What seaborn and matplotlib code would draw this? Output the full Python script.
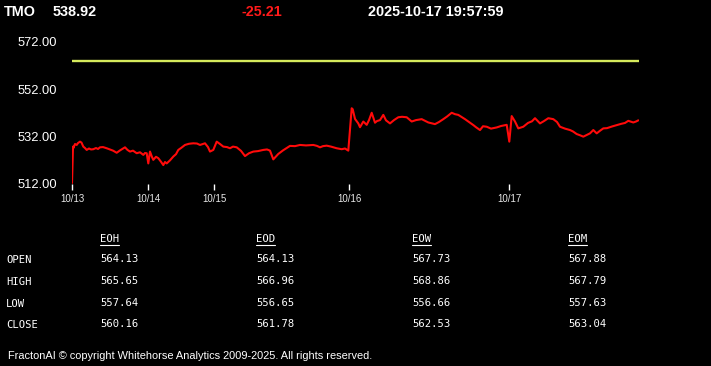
import matplotlib
matplotlib.use("Agg")
import matplotlib.pyplot as plt
from matplotlib.lines import Line2D
import seaborn as sns
import pandas as pd

# ---------------- data ----------------
symbol = "TMO"
last_price = "538.92"
change = "-25.21"
timestamp = "2025-10-17 19:57:59"

# bar index (time slots) and price
bar_idx = [0, 1, 1.3, 3, 4.7, 6, 8, 9.5, 11.3, 13, 14.7, 17, 19, 21.3, 24, 26, 28, 31, 34.7,
           38, 41, 44.7, 48, 51, 53, 55.5, 58, 61, 64.7, 68, 71.3, 73, 74.7, 76.3, 78, 80,
           81.3, 84, 86.3, 89, 91.3, 93, 94.7, 98, 101.3, 104, 106.3, 109, 113, 117, 121.3,
           125, 128, 131, 133, 136, 138, 141.3, 144.7, 148, 151.3, 155, 158, 161, 164.7,
           169, 173, 177, 181.3, 186, 191.3, 195, 198, 201.3, 206.3, 211, 214, 218, 223,
           228, 234, 241.3, 245, 248, 251, 254.7, 259, 264.7, 269.7, 273, 276.3, 279.7,
           280.7, 283, 286.3, 288, 291.3, 294.7, 297, 299.7, 303, 305, 308, 311.3, 314,
           318, 322, 326.3, 330, 334.7, 339.7, 344, 349.7, 353, 356.3, 363, 367, 371.3,
           375, 379.7, 383, 386.3, 393, 397, 401.3, 404, 408, 411, 414.7, 419, 424.7, 429,
           434.7, 437.3, 439.7, 443, 446.3, 451.3, 456, 460, 463, 468, 472, 476.3, 481.3,
           485, 488, 493, 498, 501, 504.7, 508, 511.3, 515, 518, 521.3, 524.7, 528, 531.3,
           535, 540, 544.7, 549, 553, 556.3, 559, 561.3, 564, 566.3]
price = [512.4, 527.8, 527.1, 528.9, 528.5, 529.3, 529.9, 529.5, 527.8, 527.2, 526.4, 527.0,
         526.6, 526.7, 527.2, 526.8, 527.5, 527.6, 527.1, 526.6, 526.1, 525.2, 526.2, 527.0,
         527.5, 526.4, 525.7, 526.1, 525.0, 525.4, 524.3, 525.1, 525.0, 520.7, 525.7, 523.4,
         522.2, 523.5, 522.9, 521.4, 520.0, 521.3, 520.7, 522.0, 523.6, 524.6, 526.4, 527.2,
         528.5, 529.0, 529.2, 529.1, 528.5, 528.9, 529.2, 527.6, 525.7, 526.4, 529.9, 528.9,
         527.8, 527.6, 527.1, 527.8, 527.5, 526.0, 523.8, 525.0, 525.7, 525.9, 526.4, 526.6,
         526.1, 522.4, 524.7, 526.2, 527.0, 528.1, 528.0, 528.5, 528.3, 528.5, 528.1, 527.5,
         528.0, 528.2, 527.8, 527.1, 526.7, 527.0, 526.1, 544.0, 543.6, 539.5, 537.6, 536.0,
         538.4, 537.0, 539.0, 542.1, 537.9, 538.6, 539.0, 541.2, 538.9, 537.6, 539.0, 540.2,
         540.4, 540.2, 538.4, 539.0, 539.4, 538.7, 538.0, 537.3, 538.2, 539.4, 540.5, 542.1,
         541.5, 541.2, 539.4, 538.2, 536.9, 536.0, 534.8, 536.4, 536.2, 535.4, 535.9, 536.5,
         537.0, 529.9, 540.7, 538.4, 535.5, 536.2, 537.8, 538.5, 539.8, 537.6, 538.6, 539.8,
         539.4, 538.2, 536.2, 535.4, 534.8, 534.2, 533.1, 532.6, 532.0, 532.8, 533.4, 534.8,
         533.4, 534.5, 535.5, 535.6, 536.3, 536.9, 537.4, 537.8, 538.7, 538.3, 538.0, 538.4,
         538.9]
ref_level = 564.13

day_ticks = [0, 76, 142, 277, 437]
day_labels = ["10/13", "10/14", "10/15", "10/16", "10/17"]
y_ticks = [512, 532, 552, 572]

col_headers = ["EOH", "EOD", "EOW", "EOM"]
row_labels = ["OPEN", "HIGH", "LOW", "CLOSE"]
table_vals = [["564.13", "564.13", "567.73", "567.88"],
              ["565.65", "566.96", "568.86", "567.79"],
              ["557.64", "556.65", "556.66", "557.63"],
              ["560.16", "561.78", "562.53", "563.04"]]

footer = "FractonAI © copyright Whitehorse Analytics 2009-2025. All rights reserved."

# ---------------- plot ----------------
sns.set_theme(style="dark")
plt.rcParams["font.family"] = ["Liberation Sans", "DejaVu Sans"]

W, H = 711, 366
fig = plt.figure(figsize=(W / 100, H / 100), dpi=100, facecolor="black")


def fx(px):
    return px / W


def fy(py):
    return 1 - py / H


ax = fig.add_axes([fx(72), fy(184), (639 - 72) / W, (184 - 42) / H])
ax.set_facecolor("black")

df = pd.DataFrame({"idx": bar_idx, "price": price})
sns.lineplot(data=df, x="idx", y="price", ax=ax, color="#ff0a0a", linewidth=1.5)
ax.axhline(ref_level, color="#d6ea5c", linewidth=1.7)

ax.set_xlim(0, 567)
ax.set_ylim(512, 572)
ax.set_xticks(day_ticks)
ax.set_xticklabels(day_labels)
ax.set_yticks(y_ticks)
ax.set_yticklabels([f"{v:.2f}" for v in y_ticks])
ax.set_xlabel("")
ax.set_ylabel("")
ax.grid(False)
for s in ax.spines.values():
    s.set_visible(False)
ax.tick_params(axis="x", colors="white", length=4, width=1, direction="out",
               labelsize=7, pad=3, bottom=True)
ax.tick_params(axis="y", colors="white", length=0, labelsize=9.3, pad=11)
for lab in ax.get_xticklabels():
    lab.set_color("#e8e8e8")

# header
hdr_font = ["Liberation Sans Narrow", "Liberation Sans", "DejaVu Sans"]
hdr_size = 10.4
fig.text(fx(4), fy(16), symbol, color="white", fontsize=hdr_size, fontweight="bold",
         family=hdr_font, va="baseline")
fig.text(fx(53), fy(16), last_price, color="white", fontsize=hdr_size, fontweight="bold",
         family=hdr_font, va="baseline")
fig.text(fx(241), fy(16), change, color="#ff1a1a", fontsize=hdr_size, fontweight="bold",
         family=hdr_font, va="baseline")
fig.text(fx(368), fy(16), timestamp, color="white", fontsize=hdr_size, fontweight="bold",
         family=hdr_font, va="baseline")

# table
mono = ["DejaVu Sans Mono"]
col_x = [100, 256, 412, 568]
row_y = [263, 285, 307, 328]
fig.canvas.draw()
renderer = fig.canvas.get_renderer()
for cx, h in zip(col_x, col_headers):
    t = fig.text(fx(cx), fy(242), h, color="white", fontsize=7.6, family=mono,
                 va="baseline")
    bb = t.get_window_extent(renderer)
    fig.add_artist(Line2D([fx(cx), fx(cx) + bb.width / W], [fy(244.5), fy(244.5)],
                          color="white", linewidth=0.8, transform=fig.transFigure))
for ry, lab, vals in zip(row_y, row_labels, table_vals):
    fig.text(fx(6), fy(ry), lab, color="white", fontsize=7.6, family=mono,
             va="baseline")
    for cx, v in zip(col_x, vals):
        fig.text(fx(cx), fy(ry - 1), v, color="white", fontsize=7.6, family=mono,
                 va="baseline")

fig.text(fx(8), fy(359), footer, color="white", fontsize=7.95,
         family=["Liberation Sans", "DejaVu Sans"], va="baseline")

fig.savefig("out.png", dpi=100, facecolor="black")
